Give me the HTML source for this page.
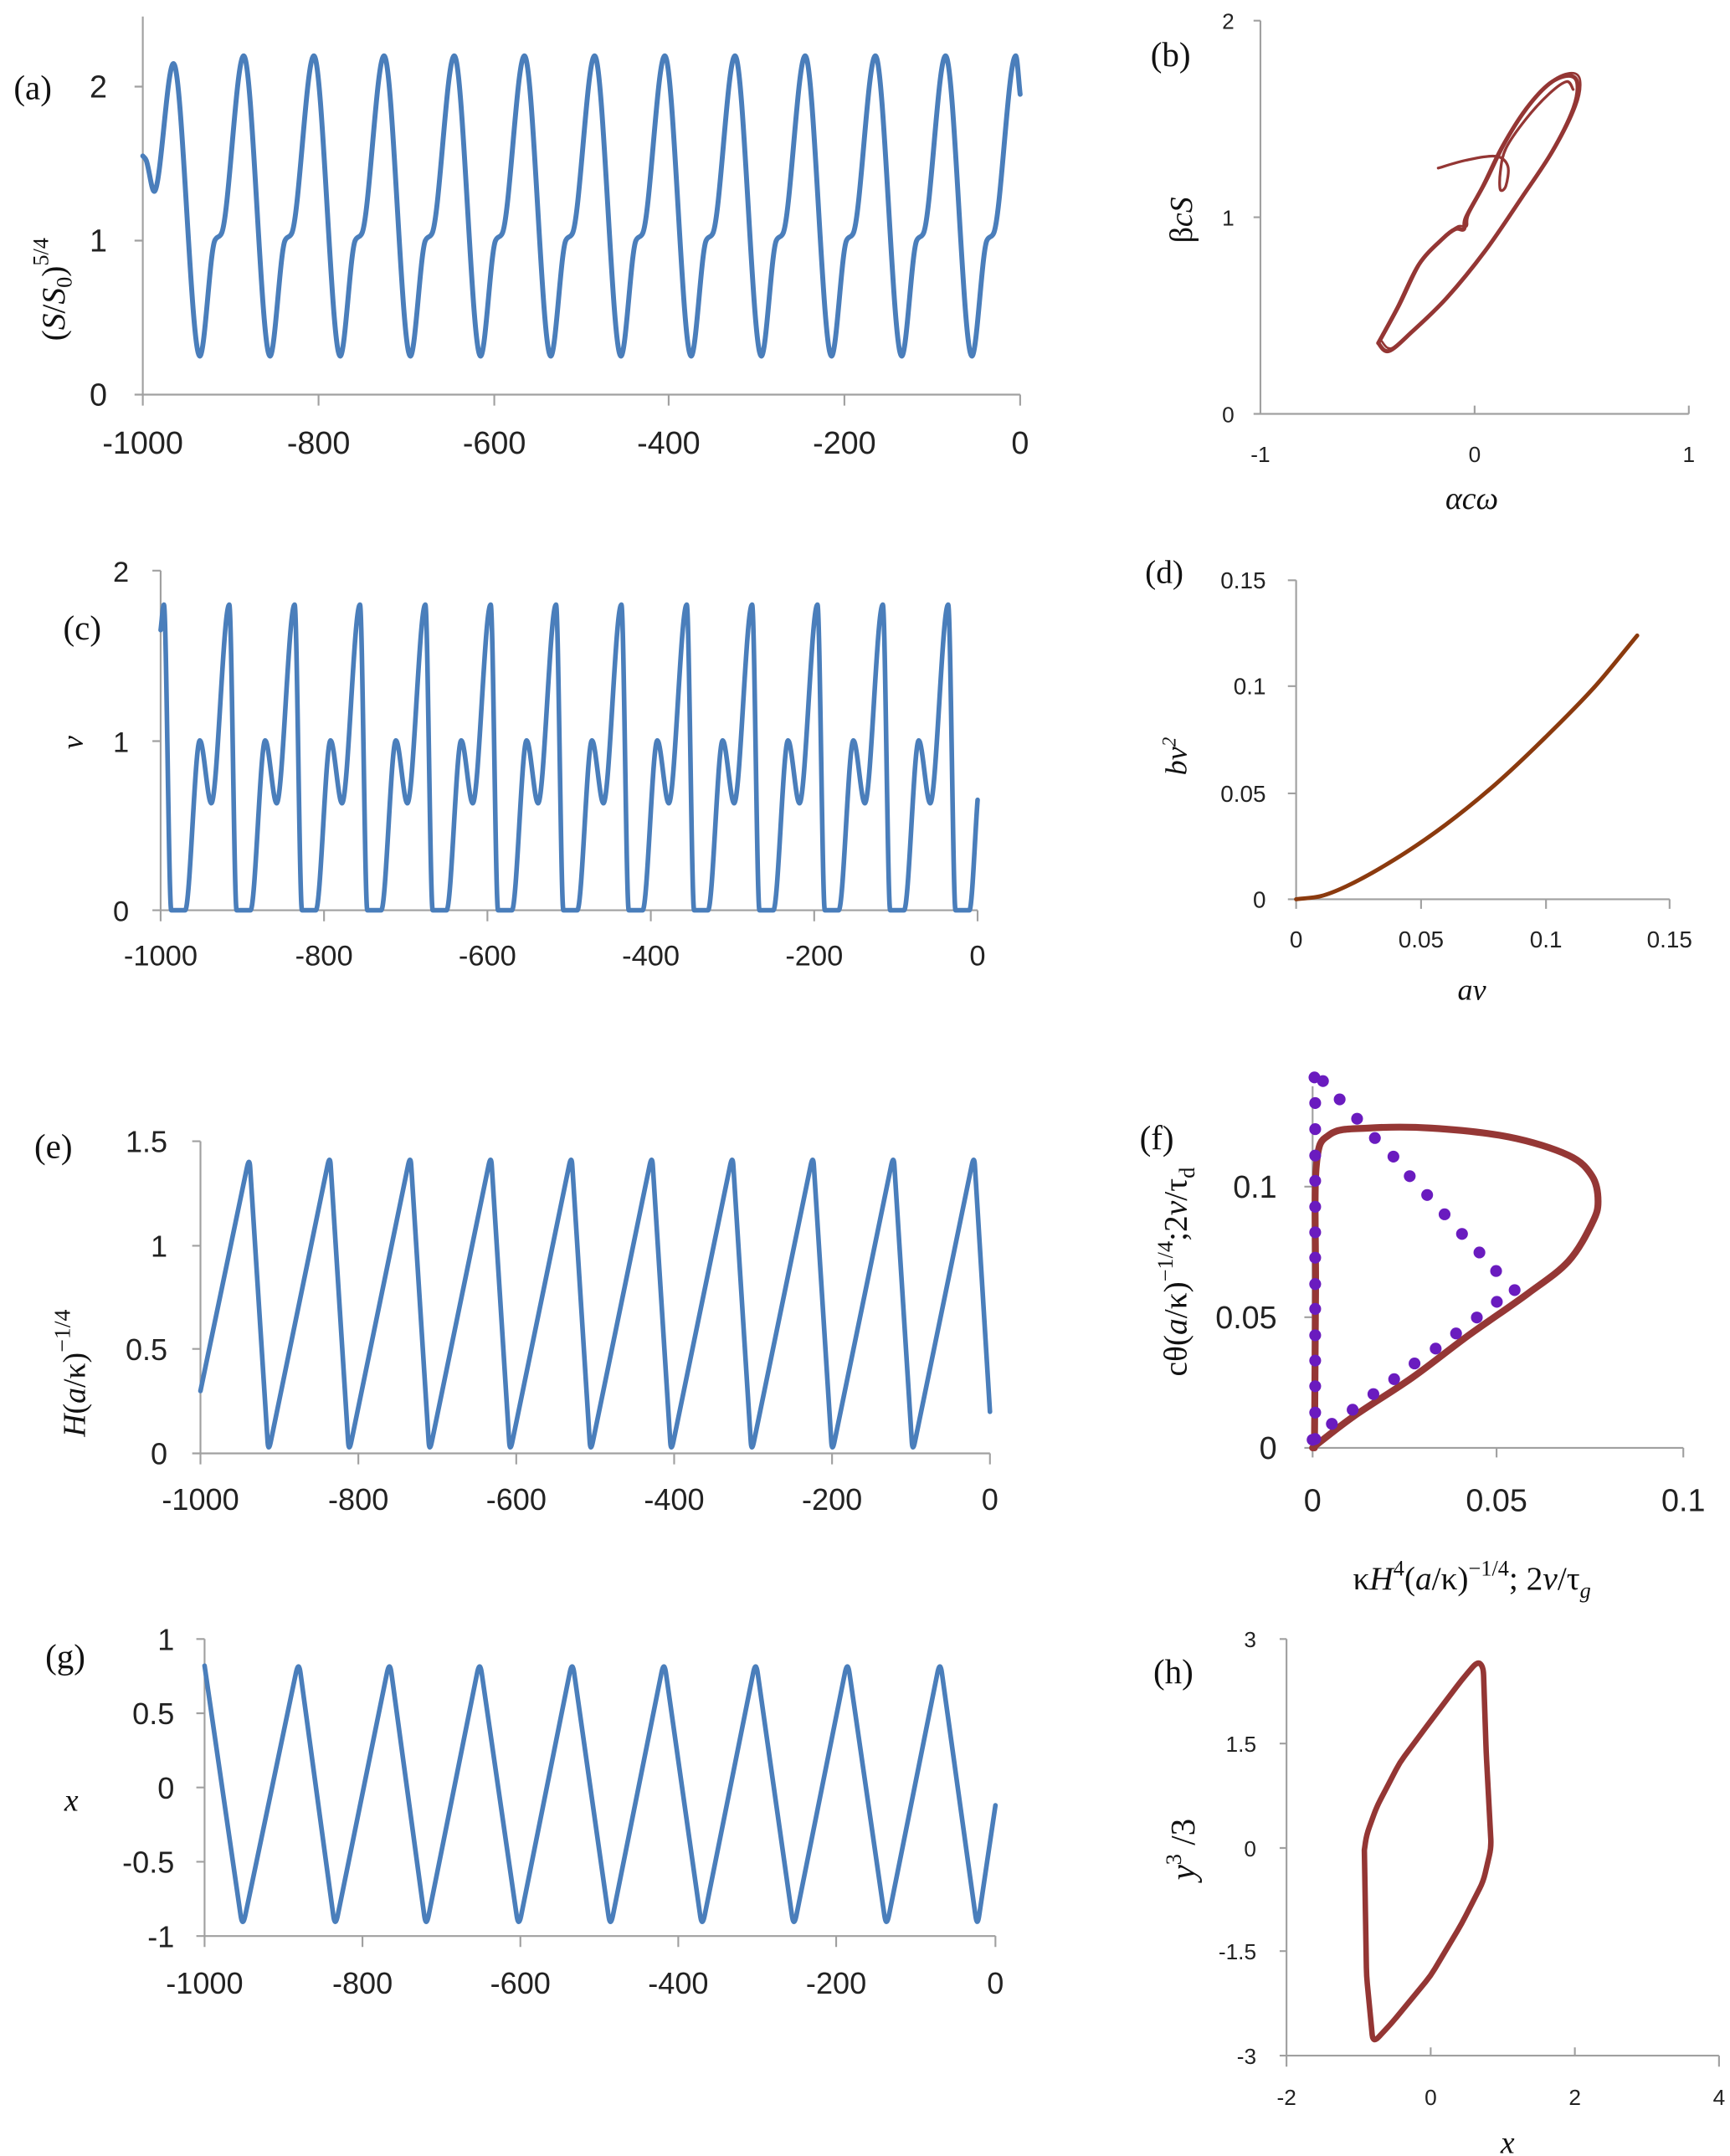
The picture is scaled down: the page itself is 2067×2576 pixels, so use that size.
<!DOCTYPE html>
<html><head><meta charset="utf-8"><style>
html,body{margin:0;padding:0;background:#fff;}
svg{display:block;}
.tk{font-family:"Liberation Sans",sans-serif;fill:#222;}
.sf{font-family:"Liberation Serif",serif;fill:#111;}
.ax{stroke:#a0a0a0;stroke-width:1.3;fill:none;}
</style></head><body>
<svg id="fig" width="2067" height="2576" viewBox="0 0 1260 1568" preserveAspectRatio="none" xmlns="http://www.w3.org/2000/svg">
<rect width="1260" height="1568" fill="#fff"/>

<g>
<path class="ax" d="M104 12V287M98 63H104M98 175H104M98 287H743M104 287v8M232 287v8M360 287v8M487 287v8M615 287v8M743 287v8"/>
<g class="tk" font-size="23" text-anchor="end"><text x="78" y="71">2</text><text x="78" y="183">1</text><text x="78" y="295">0</text></g>
<g class="tk" font-size="23" text-anchor="middle"><text x="104" y="330">-1000</text><text x="232" y="330">-800</text><text x="360" y="330">-600</text><text x="487" y="330">-400</text><text x="615" y="330">-200</text><text x="743" y="330">0</text></g>
<text class="sf" x="10" y="72" font-size="25">(a)</text>
<text class="sf" font-size="24" transform="translate(47,248) rotate(-90)">(<tspan font-style="italic">S</tspan>/<tspan font-style="italic">S</tspan><tspan font-size="16" dy="5">0</tspan><tspan dy="-5">)</tspan><tspan font-size="16" dy="-12">5/4</tspan></text>
</g>

<g>
<path class="ax" d="M918 15V301M913 15H918M913 158H918M913 301H1230M1074 301v-6M1230 301v-6"/>
<g class="tk" font-size="16" text-anchor="end"><text x="899" y="21">2</text><text x="899" y="164">1</text><text x="899" y="307">0</text></g>
<g class="tk" font-size="16" text-anchor="middle"><text x="918" y="336">-1</text><text x="1074" y="336">0</text><text x="1230" y="336">1</text></g>
<text class="sf" x="838" y="48" font-size="25">(b)</text>
<text class="sf" x="1072" y="370" font-size="23" text-anchor="middle" font-style="italic">αcω</text>
<text class="sf" font-size="23" text-anchor="middle" transform="translate(868,160) rotate(-90)">β<tspan font-style="italic">cS</tspan></text>
</g>

<g>
<path class="ax" d="M117 415V662M111 415H117M111 539H117M111 662H712M117 662v8M236 662v8M355 662v8M474 662v8M593 662v8M712 662v8"/>
<g class="tk" font-size="21" text-anchor="end"><text x="94" y="423">2</text><text x="94" y="547">1</text><text x="94" y="670">0</text></g>
<g class="tk" font-size="21" text-anchor="middle"><text x="117" y="702">-1000</text><text x="236" y="702">-800</text><text x="355" y="702">-600</text><text x="474" y="702">-400</text><text x="593" y="702">-200</text><text x="712" y="702">0</text></g>
<text class="sf" x="46" y="465" font-size="25">(c)</text>
<text class="sf" font-size="22" font-style="italic" text-anchor="middle" transform="translate(60,540) rotate(-90)">v</text>
</g>

<g>
<path class="ax" d="M944 422V654M938 422H944M938 499H944M938 577H944M938 654H1216M944 654v7M1035 654v7M1126 654v7M1216 654v7"/>
<g class="tk" font-size="17" text-anchor="end"><text x="922" y="428">0.15</text><text x="922" y="505">0.1</text><text x="922" y="583">0.05</text><text x="922" y="660">0</text></g>
<g class="tk" font-size="17" text-anchor="middle"><text x="944" y="689">0</text><text x="1035" y="689">0.05</text><text x="1126" y="689">0.1</text><text x="1216" y="689">0.15</text></g>
<text class="sf" x="834" y="424" font-size="24">(d)</text>
<text class="sf" x="1072" y="727" font-size="22" text-anchor="middle" font-style="italic">av</text>
<text class="sf" font-size="22" text-anchor="middle" font-style="italic" transform="translate(864,550) rotate(-90)">bv<tspan font-size="14" dy="-8">2</tspan></text>
</g>

<g>
<path class="ax" d="M146 830V1057M140 830H146M140 906H146M140 981H146M140 1057H721M146 1057v8M261 1057v8M376 1057v8M491 1057v8M606 1057v8M721 1057v8"/>
<g class="tk" font-size="22" text-anchor="end"><text x="122" y="838">1.5</text><text x="122" y="914">1</text><text x="122" y="989">0.5</text><text x="122" y="1065">0</text></g>
<g class="tk" font-size="22" text-anchor="middle"><text x="146" y="1098">-1000</text><text x="261" y="1098">-800</text><text x="376" y="1098">-600</text><text x="491" y="1098">-400</text><text x="606" y="1098">-200</text><text x="721" y="1098">0</text></g>
<text class="sf" x="25" y="842" font-size="25">(e)</text>
<text class="sf" font-size="23" transform="translate(62,1045) rotate(-90)"><tspan font-style="italic">H</tspan>(<tspan font-style="italic">a</tspan>/κ)<tspan font-size="17" dy="-11">−1/4</tspan></text>
</g>

<g>
<path class="ax" d="M956 790V1053M950 863H956M950 958H956M950 1053H1226M956 1053v7M1090 1053v7M1226 1053v7"/>
<g class="tk" font-size="23" text-anchor="end"><text x="930" y="871">0.1</text><text x="930" y="966">0.05</text><text x="930" y="1061">0</text></g>
<g class="tk" font-size="23" text-anchor="middle"><text x="956" y="1099">0</text><text x="1090" y="1099">0.05</text><text x="1226" y="1099">0.1</text></g>
<text class="sf" x="830" y="836" font-size="25">(f)</text>
<text class="sf" x="1072" y="1156" font-size="24" text-anchor="middle">κ<tspan font-style="italic">H</tspan><tspan font-size="16" dy="-10">4</tspan><tspan dy="10">(</tspan><tspan font-style="italic">a</tspan>/κ)<tspan font-size="16" dy="-10">−1/4</tspan><tspan dy="10">; 2</tspan><tspan font-style="italic">v</tspan>/τ<tspan font-size="16" dy="6" font-style="italic">g</tspan></text>
<text class="sf" font-size="24" text-anchor="middle" transform="translate(864,925) rotate(-90)">cθ(<tspan font-style="italic">a</tspan>/κ)<tspan font-size="16" dy="-10">−1/4</tspan><tspan dy="10">;2</tspan><tspan font-style="italic">v</tspan>/τ<tspan font-size="16" dy="6">d</tspan></text>
</g>

<g>
<path class="ax" d="M149 1192V1408M143 1192H149M143 1246H149M143 1300H149M143 1354H149M143 1408H725M149 1408v8M264 1408v8M379 1408v8M494 1408v8M609 1408v8M725 1408v8"/>
<g class="tk" font-size="22" text-anchor="end"><text x="127" y="1200">1</text><text x="127" y="1254">0.5</text><text x="127" y="1308">0</text><text x="127" y="1362">-0.5</text><text x="127" y="1416">-1</text></g>
<g class="tk" font-size="22" text-anchor="middle"><text x="149" y="1450">-1000</text><text x="264" y="1450">-800</text><text x="379" y="1450">-600</text><text x="494" y="1450">-400</text><text x="609" y="1450">-200</text><text x="725" y="1450">0</text></g>
<text class="sf" x="33" y="1213" font-size="25">(g)</text>
<text class="sf" x="52" y="1317" font-size="23" font-style="italic" text-anchor="middle">x</text>
</g>

<g>
<path class="ax" d="M937 1192V1495M932 1192H937M932 1268H937M932 1344H937M932 1419H937M932 1495H1252M937 1495v8M1042 1495v-6M1147 1495v-6M1252 1495v8"/>
<g class="tk" font-size="16" text-anchor="end"><text x="915" y="1198">3</text><text x="915" y="1274">1.5</text><text x="915" y="1350">0</text><text x="915" y="1425">-1.5</text><text x="915" y="1501">-3</text></g>
<g class="tk" font-size="16" text-anchor="middle"><text x="937" y="1531">-2</text><text x="1042" y="1531">0</text><text x="1147" y="1531">2</text><text x="1252" y="1531">4</text></g>
<text class="sf" x="840" y="1224" font-size="25">(h)</text>
<text class="sf" x="1098" y="1566" font-size="23" font-style="italic" text-anchor="middle">x</text>
<text class="sf" font-size="25" text-anchor="middle" transform="translate(870,1345) rotate(-90)"><tspan font-style="italic">y</tspan><tspan font-size="16" dy="-10">3</tspan><tspan dy="10"> /3</tspan></text>
</g>
<g id="series"></g>
</svg>
<script>
// ---- Panel (a) data ----
const aPeakT = [-965,-885,-805,-725,-645,-565,-485,-405,-325,-245,-165,-85,-5];
const aPeakV = [2.15,2.2,2.2,2.2,2.2,2.2,2.2,2.2,2.2,2.2,2.2,2.2,2.2];
const aTroughV = [0.25,0.25,0.25,0.25,0.25,0.25,0.25,0.25,0.25,0.25,0.25,0.25];
const aShoulderV = [1.02,1.02,1.02,1.02,1.02,1.02,1.02,1.02,1.02,1.02,1.02,1.02];
const aStartT = [-1000,-996,-987];
const aStartV = [1.55,1.52,1.32];
const aEndV = [1.95];
// ---- Panel (b) data ----
const bCycleX = [-0.45,-0.36,-0.26,-0.15,-0.09,-0.05,-0.04,0.04,0.13,0.24,0.35,0.44,0.48,0.46,0.36,0.22,0.05,-0.13,-0.29,-0.40,-0.45];
const bCycleY = [0.36,0.54,0.76,0.89,0.94,0.94,1.0,1.16,1.36,1.55,1.68,1.72,1.68,1.55,1.33,1.10,0.83,0.59,0.42,0.32,0.36];
const bTransX = [-0.17,-0.04,0.10,0.155,0.146,0.12,0.12,0.146,0.24,0.35,0.43,0.46];
const bTransY = [1.25,1.29,1.31,1.26,1.16,1.14,1.23,1.35,1.50,1.63,1.69,1.65];
// ---- Panel (c) data ----
const cPeakT = [-996,-916,-836,-756,-676,-596,-516,-436,-356,-276,-196,-116,-36];
const cPeakV = [1.8,1.8,1.8,1.8,1.8,1.8,1.8,1.8,1.8,1.8,1.8,1.8,1.8];
const cBumpV = [1.0,1.0,1.0,1.0,1.0,1.0,1.0,1.0,1.0,1.0,1.0,1.0];
const cDipV = [0.63,0.63,0.63,0.63,0.63,0.63,0.63,0.63,0.63,0.63,0.63,0.63];
const cStartV = [1.65];
const cEndV = [0.65];
// ---- Panel (d) data ----
const dX = [0,0.01,0.02,0.04,0.06,0.08,0.1,0.12,0.137];
const dY = [0,0.0015,0.006,0.019,0.035,0.054,0.076,0.1,0.124];
// ---- Panel (e) data ----
const ePeakT = [-938,-836,-734,-632,-530,-428,-326,-224,-122,-20];
const ePeakV = [1.43,1.44,1.44,1.44,1.44,1.44,1.44,1.44,1.44,1.44];
const eTroughT = [-914,-812,-710,-608,-506,-404,-302,-200,-98];
const eTroughV = [0.0,0.0,0.0,0.0,0.0,0.0,0.0,0.0,0.0];
const eStartV = [0.3];
const eEndV = [0.2];
// ---- Panel (f) data ----
const fCurveX = [0.0005,0.0008,0.001,0.0047,0.015,0.032,0.053,0.069,0.0754,0.077,0.0754,0.069,0.058,0.042,0.027,0.011,0];
const fCurveY = [0,0.06,0.108,0.12,0.1224,0.1224,0.119,0.112,0.104,0.0943,0.086,0.0714,0.059,0.043,0.027,0.012,0];
const fDotX = [0.0005,0.0028,0.0073,0.012,0.0168,0.0218,0.0262,0.0309,0.0356,0.0403,0.045,0.0495,0.0545,0.0497,0.0443,0.0387,0.0332,0.0275,0.022,0.0164,0.0108,0.0052,0,
  0.0007,0.0007,0.0007,0.0007,0.0007,0.0007,0.0007,0.0007,0.0007,0.0007,0.0007,0.0007,0.0007,0.0007];
const fDotY = [0.1418,0.1404,0.1334,0.126,0.1186,0.1115,0.104,0.0968,0.0894,0.0819,0.0748,0.0677,0.0604,0.0559,0.0499,0.0438,0.038,0.0323,0.0263,0.0206,0.0146,0.0092,0.0031,
  0.132,0.122,0.1119,0.1022,0.0923,0.0825,0.0728,0.0627,0.0532,0.0431,0.0334,0.0236,0.0135,0.0034];
// ---- Panel (g) data ----
const gPeakT = [-881,-766,-652,-535,-419,-303,-187,-70];
const gPeakV = [0.86,0.86,0.86,0.86,0.86,0.86,0.86,0.86];
const gTroughT = [-952,-835,-720,-603,-487,-371,-255,-138,-23];
const gTroughV = [-0.95,-0.95,-0.95,-0.95,-0.95,-0.95,-0.95,-0.95,-0.95];
const gStartV = [0.82];
const gEndV = [-0.12];
// ---- Panel (h) data ----
const hX = [-0.92,-0.89,-0.8,-0.54,0,0.43,0.73,0.84,0.77,0.73,0.65,0.43,0,-0.43,-0.75,-0.89,-0.92];
const hY = [-0.04,-1.85,-2.82,-2.53,-1.85,-1.1,-0.49,0,1.37,2.6,2.68,2.41,1.82,1.22,0.58,0.18,-0.04];

function lin(d0,d1,p0,p1){return v=>p0+(v-d0)*(p1-p0)/(d1-d0);}
const layer=document.getElementById('series');
const NS='http://www.w3.org/2000/svg';

function monotone(px,py){
  const n=px.length;const d=[],m=[];
  for(let i=0;i<n-1;i++)d.push((py[i+1]-py[i])/(px[i+1]-px[i]));
  for(let i=0;i<n;i++){
    if(i===0)m.push(d[0]);else if(i===n-1)m.push(d[n-2]);
    else m.push(d[i-1]*d[i]<=0?0:(d[i-1]+d[i])/2);
  }
  for(let i=0;i<n-1;i++){
    if(d[i]===0){m[i]=0;m[i+1]=0;continue;}
    const a=m[i]/d[i],b=m[i+1]/d[i];const s=a*a+b*b;
    if(s>9){const t=3/Math.sqrt(s);m[i]=t*a*d[i];m[i+1]=t*b*d[i];}
  }
  let s='M'+px[0].toFixed(2)+' '+py[0].toFixed(2);
  for(let i=0;i<n-1;i++){const h=(px[i+1]-px[i])/3;
    s+='C'+(px[i]+h).toFixed(2)+' '+(py[i]+m[i]*h).toFixed(2)+' '+(px[i+1]-h).toFixed(2)+' '+(py[i+1]-m[i+1]*h).toFixed(2)+' '+px[i+1].toFixed(2)+' '+py[i+1].toFixed(2);}
  return s;
}
function catmull(px,py){
  let s='M'+px[0].toFixed(2)+' '+py[0].toFixed(2);const n=px.length;
  for(let i=0;i<n-1;i++){
    const i0=Math.max(0,i-1),i3=Math.min(n-1,i+2);
    const c1x=px[i]+(px[i+1]-px[i0])/6,c1y=py[i]+(py[i+1]-py[i0])/6;
    const c2x=px[i+1]-(px[i3]-px[i])/6,c2y=py[i+1]-(py[i3]-py[i])/6;
    s+='C'+c1x.toFixed(2)+' '+c1y.toFixed(2)+' '+c2x.toFixed(2)+' '+c2y.toFixed(2)+' '+px[i+1].toFixed(2)+' '+py[i+1].toFixed(2);
  }
  return s;
}
function rounded(px,py,r){
  let s='M'+px[0].toFixed(2)+' '+py[0].toFixed(2);const n=px.length;
  for(let i=1;i<n-1;i++){
    const ax=px[i-1]-px[i],ay=py[i-1]-py[i],bx=px[i+1]-px[i],by=py[i+1]-py[i];
    const la=Math.hypot(ax,ay),lb=Math.hypot(bx,by);
    const fa=Math.min(r/la,0.5),fb=Math.min(r/lb,0.5);
    s+='L'+(px[i]+ax*fa).toFixed(2)+' '+(py[i]+ay*fa).toFixed(2)+'Q'+px[i].toFixed(2)+' '+py[i].toFixed(2)+' '+(px[i]+bx*fb).toFixed(2)+' '+(py[i]+by*fb).toFixed(2);
  }
  s+='L'+px[n-1].toFixed(2)+' '+py[n-1].toFixed(2);return s;
}
function addPath(d,color,w,name){
  const p=document.createElementNS(NS,'path');
  p.setAttribute('d',d);p.setAttribute('fill','none');p.setAttribute('stroke',color);
  p.setAttribute('stroke-width',w);p.setAttribute('stroke-linejoin','round');p.setAttribute('stroke-linecap','round');
  
  
  layer.appendChild(p);return p;
}
const BLUE='#4a7ebb';

{const X=lin(-1000,0,104,743),Y=lin(0,2,287,63);const T=[],V=[];
 aStartT.forEach((t,i)=>{T.push(t);V.push(aStartV[i]);});
 aPeakT.forEach((p,i)=>{T.push(p);V.push(aPeakV[i]);
   if(i<aTroughV.length){T.push(p+30);V.push(aTroughV[i]);T.push(p+47);V.push(aShoulderV[i]*0.98);T.push(p+55);V.push(aShoulderV[i]*1.03);}});
 T.push(0);V.push(aEndV[0]);
 addPath(monotone(T.map(X),V.map(Y)),BLUE,3.6,'series-a-line');}
{const X=lin(-1,1,918,1230),Y=lin(0,2,301,15);
 addPath(catmull(bTransX.map(X),bTransY.map(Y)),'#943634',2,'series-b-transient');
 addPath(catmull(bCycleX.map(X),bCycleY.map(Y)),'#943634',3,'series-b-cycle');
 const sx=bCycleX.map(v=>X(v)+2),sy=bCycleY.map(v=>Y(v)-2);
 addPath(catmull(sx,sy),'#943634',1.6,'series-b-cycle-2');}
{const X=lin(-1000,0,117,712),Y=lin(0,2,662,415);const T=[-1000],V=[cStartV[0]];
 cPeakT.forEach((p,i)=>{T.push(p);V.push(cPeakV[i]);T.push(p+9);V.push(0);T.push(p+26);V.push(0);
   if(i<cBumpV.length){T.push(p+44);V.push(cBumpV[i]);T.push(p+58);V.push(cDipV[i]);}});
 T.push(0);V.push(cEndV[0]);
 addPath(monotone(T.map(X),V.map(Y)),BLUE,3.4,'series-c-line');}
{const X=lin(0,0.15,944,1216),Y=lin(0,0.15,654,422);
 addPath(monotone(dX.map(X),dY.map(Y)),'#8b3a0e',3,'series-d-line');}
{const X=lin(-1000,0,146,721),Y=lin(0,1.5,1057,830);const T=[-1000],V=[eStartV[0]];
 ePeakT.forEach((p,i)=>{T.push(p);V.push(ePeakV[i]);if(i<eTroughT.length){T.push(eTroughT[i]);V.push(eTroughV[i]);}});
 T.push(0);V.push(eEndV[0]);
 addPath(rounded(T.map(X),V.map(Y),9),BLUE,3.4,'series-e-line');}
{const X=lin(0,0.1,956,1226),Y=lin(0,0.1,1053,863);
 addPath(catmull(fCurveX.map(X),fCurveY.map(Y)),'#953735',5,'series-f-line');
 fDotX.forEach((v,i)=>{const c=document.createElementNS(NS,'circle');
   c.setAttribute('cx',X(v));c.setAttribute('cy',Y(fDotY[i]));c.setAttribute('r',4.3);c.setAttribute('fill','#6a1bbf');
   
   
   layer.appendChild(c);});}
{const X=lin(-1000,0,149,725),Y=lin(-1,1,1408,1192);const T=[-1000],V=[gStartV[0]];
 gTroughT.forEach((t,i)=>{T.push(t);V.push(gTroughV[i]);if(i<gPeakT.length){T.push(gPeakT[i]);V.push(gPeakV[i]);}});
 T.push(0);V.push(gEndV[0]);
 addPath(rounded(T.map(X),V.map(Y),10),BLUE,3.4,'series-g-line');}
{const X=lin(-2,4,937,1252),Y=lin(-3,3,1495,1192);
 addPath(rounded(hX.map(X),hY.map(Y),6),'#943634',4,'series-h-loop');}
</script>
</body></html>
